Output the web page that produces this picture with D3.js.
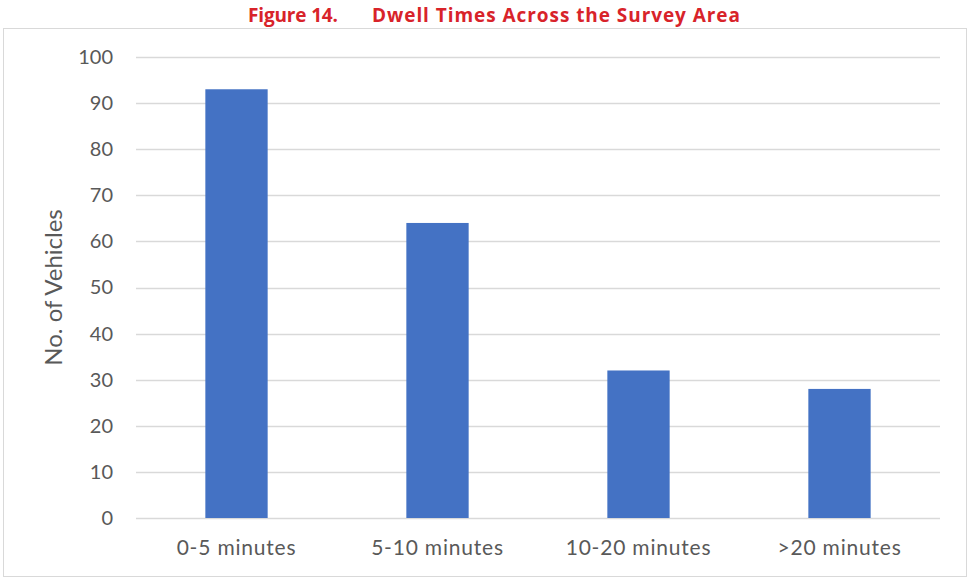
<!DOCTYPE html>
<html>
<head>
<meta charset="utf-8">
<script src="https://cdn.jsdelivr.net/npm/d3@7"></script>
<style>
  html, body { margin: 0; padding: 0; background: #fff; }
  svg { display: block; }
</style>
</head>
<body>
<svg id="chart" width="970" height="580"></svg>
<script>
// Dwell time bands and vehicle counts
const categories = ["0-5 minutes", "5-10 minutes", "10-20 minutes", ">20 minutes"];
const vehicles = [93, 64, 32, 28];
const yTicks = [0, 10, 20, 30, 40, 50, 60, 70, 80, 90, 100];

const svg = d3.select("#chart");
const W = 970, H = 580;
const margin = { left: 136, right: 30, top: 57, bottom: 62 };
const plotRight = W - margin.right;
const plotBottom = H - margin.bottom;
const font = "Lato, 'Open Sans', sans-serif";

// Chart frame
svg.append("rect")
  .attr("x", 3.5).attr("y", 28.5)
  .attr("width", 963).attr("height", 548)
  .attr("fill", "#fff")
  .attr("stroke", "#d9d9d9").attr("stroke-width", 1);

// Figure caption
const title = svg.append("text")
  .attr("y", 22)
  .attr("font-family", "'Open Sans', Lato, sans-serif")
  .attr("font-weight", "bold")
  .attr("font-size", 19)
  .attr("fill", "#d8232a");
title.append("tspan").attr("x", 248).attr("textLength", 90).attr("lengthAdjust", "spacing").text("Figure 14.");
title.append("tspan").attr("x", 372).attr("textLength", 368).attr("lengthAdjust", "spacing").text("Dwell Times Across the Survey Area");

const x = d3.scaleBand()
  .domain(categories)
  .range([margin.left, plotRight])
  .paddingInner(0.69)
  .paddingOuter(0.345);

const y = d3.scaleLinear()
  .domain([0, 100])
  .range([plotBottom, margin.top]);

// Gridlines
svg.append("g")
  .selectAll("line")
  .data(yTicks)
  .join("line")
  .attr("x1", margin.left).attr("x2", plotRight)
  .attr("y1", d => Math.round(y(d)) + 0.5)
  .attr("y2", d => Math.round(y(d)) + 0.5)
  .attr("stroke", "#d9d9d9")
  .attr("stroke-width", 1.5);

// Bars
svg.append("g")
  .selectAll("rect")
  .data(vehicles)
  .join("rect")
  .attr("x", (d, i) => x(categories[i]))
  .attr("width", x.bandwidth())
  .attr("y", d => y(d))
  .attr("height", d => y(0) - y(d))
  .attr("fill", "#4472c4");

// Y axis labels
const yAxis = d3.axisLeft(y).tickValues(yTicks).tickSize(0).tickPadding(0);
const gy = svg.append("g")
  .attr("transform", `translate(${margin.left - 23},0)`)
  .call(yAxis);
gy.select(".domain").remove();
gy.selectAll("text")
  .attr("font-family", font)
  .attr("font-size", 20)
  .attr("fill", "#595959");

// X axis labels
const xAxis = d3.axisBottom(x).tickSize(0).tickPadding(0);
const gx = svg.append("g")
  .attr("transform", `translate(0,${plotBottom + 22})`)
  .call(xAxis);
gx.select(".domain").remove();
gx.selectAll("text")
  .attr("font-family", font)
  .attr("font-size", 21)
  .attr("letter-spacing", 0.8)
  .attr("fill", "#595959");

// Y axis title
svg.append("text")
  .attr("transform", `translate(62,${(margin.top + plotBottom) / 2}) rotate(-90)`)
  .attr("text-anchor", "middle")
  .attr("font-family", font)
  .attr("font-size", 24)
  .attr("fill", "#595959")
  .text("No. of Vehicles");
</script>
</body>
</html>
